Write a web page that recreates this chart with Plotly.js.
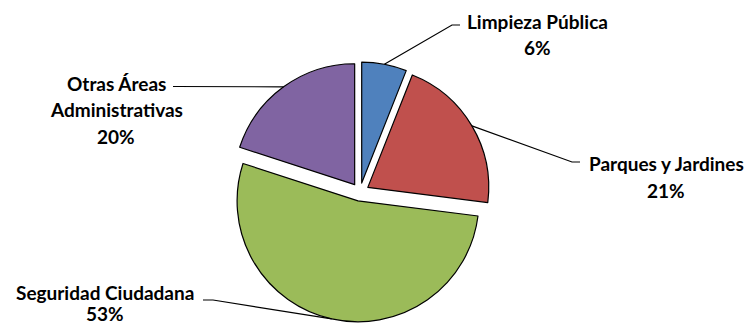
<!DOCTYPE html>
<html><head><meta charset="utf-8">
<script src="https://cdn.plot.ly/plotly-3.0.1.min.js"></script>
<style>html,body{margin:0;padding:0;background:#fff}#chart{width:746px;height:327px}</style>
</head><body><div id="chart"></div>
<script>
// ---- data ----
const categories = ['Limpieza Pública', 'Parques y Jardines', 'Seguridad Ciudadana', 'Otras Áreas Administrativas'];
const values = [6, 21, 53, 20];
const labelLines = [['Limpieza Pública'], ['Parques y Jardines'], ['Seguridad Ciudadana'], ['Otras Áreas', 'Administrativas']];

// ---- styling / layout ----
const colors = ['#4F81BD', '#C0504D', '#9BBB59', '#8064A2'];
const W = 746, H = 327;
const pull = 0.075;
const dom = {x: [230 / W, 490 / W], y: [1 - 322 / H, 1 - 62 / H]};
// label placement in pixels: text centre x, first line centre y, line gap, leader bend and end
const labelPos = [
  {x: 537, y: 21, gap: 26.5, bend: [452, 25], end: [460, 25]},
  {x: 666, y: 164, gap: 26.5, bend: [572, 162], end: [580, 162]},
  {x: 105, y: 292, gap: 21, bend: [213, 300], end: [203, 300]},
  {x: 116, y: 83, gap: 26.5, bend: [175, 86.5], end: [173, 86.5]}
];
const font = {family: 'Lato, "Open Sans", sans-serif', size: 19, color: '#000', weight: 700};

// pie geometry as Plotly computes it
const boxW = W * (dom.x[1] - dom.x[0]), boxH = H * (dom.y[1] - dom.y[0]);
const r = Math.min(boxW, boxH) / (2 + 2 * pull);
const cx = W * (dom.x[0] + dom.x[1]) / 2;
const cy = H * (1 - dom.y[0]) - boxH / 2;
const total = values.reduce((a, b) => a + b, 0);

const px = x => x / W, py = y => 1 - y / H;
const shapes = [], annotations = [];
let cum = 0;
values.forEach((v, i) => {
  const mid = (cum + v / 2) / total; cum += v;
  const th = 2 * Math.PI * mid;
  const ax = cx + r * (1 + pull) * Math.sin(th);
  const ay = cy - r * (1 + pull) * Math.cos(th);
  const lp = labelPos[i];
  shapes.push({type: 'path', xref: 'paper', yref: 'paper',
    path: `M ${px(ax)} ${py(ay)} L ${px(lp.bend[0])} ${py(lp.bend[1])} L ${px(lp.end[0])} ${py(lp.end[1])}`,
    line: {color: '#000', width: 1.2}});
  const lines = labelLines[i].concat([Math.round(v / total * 100) + '%']);
  lines.forEach((t, k) => {
    annotations.push({xref: 'paper', yref: 'paper', x: px(lp.x), y: py(lp.y + k * lp.gap),
      xanchor: 'center', yanchor: 'middle', showarrow: false, text: '<b>' + t + '</b>', font: font});
  });
});

Plotly.newPlot('chart', [{
  type: 'pie', labels: categories, values: values, sort: false, direction: 'clockwise', rotation: 0,
  pull: pull, textinfo: 'none', hoverinfo: 'label+percent',
  marker: {colors: colors, line: {color: '#000', width: 1.2}},
  domain: dom, showlegend: false
}], {
  width: W, height: H, margin: {l: 0, r: 0, t: 0, b: 0},
  paper_bgcolor: '#fff', plot_bgcolor: '#fff', showlegend: false,
  shapes: shapes, annotations: annotations
}, {staticPlot: true});
</script></body></html>
